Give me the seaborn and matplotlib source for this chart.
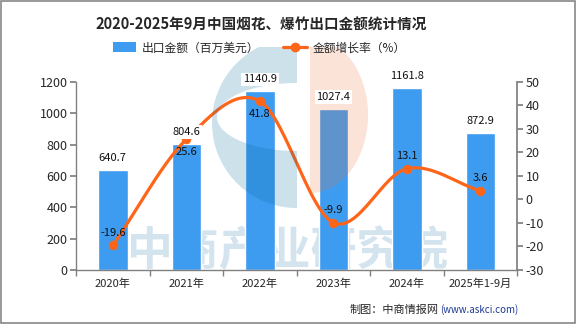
import numpy as np
import pandas as pd
import matplotlib
matplotlib.use("Agg")
import matplotlib.pyplot as plt
import seaborn as sns
from matplotlib.lines import Line2D
from matplotlib.patches import Patch, Rectangle, PathPatch
from matplotlib.path import Path

categories = ["2020年", "2021年", "2022年", "2023年", "2024年", "2025年1-9月"]
export_values = [640.7, 804.6, 1140.9, 1027.4, 1161.8, 872.9]
growth_rates = [-19.6, 25.6, 41.8, -9.9, 13.1, 3.6]
left_ticks = [0, 200, 400, 600, 800, 1000, 1200]
right_ticks = [-30, -20, -10, 0, 10, 20, 30, 40, 50]

title = "2020-2025年9月中国烟花、爆竹出口金额统计情况"
bar_label = "出口金额（百万美元）"
line_label = "金额增长率（%）"
source = "制图：中商情报网"
source_url = "(www.askci.com)"
watermark = "中商产业研究院"

sns.set_theme(style="white")
plt.rcParams["font.family"] = ["Noto Sans CJK SC", "DejaVu Sans"]
plt.rcParams["axes.unicode_minus"] = False

bar_color = "#3D9BF0"
line_color = "#FF6519"
grey = "#808080"

df = pd.DataFrame({"cat": categories, "value": export_values, "rate": growth_rates})

fig = plt.figure(figsize=(5.76, 3.24), dpi=100)

# background watermark text (behind bars)
bg = fig.add_axes([0, 0, 1, 1], zorder=-1)
bg.set_xlim(0, 576)
bg.set_ylim(324, 0)
bg.axis("off")
bg.text(288, 252, watermark, ha="center", va="center", fontsize=33, fontweight="bold",
        color="#D3E4EF")

ax = fig.add_axes([0.132, 0.167, 0.766, 0.58])
ax.patch.set_visible(False)
sns.barplot(data=df, x="cat", y="value", color=bar_color, width=0.4, ax=ax,
            saturation=1, zorder=2)
ax.set_xlim(-0.5, len(categories) - 0.5)
ax.set_ylim(0, 1200)
ax.set_yticks(left_ticks)
ax.set_xlabel("")
ax.set_ylabel("")
ax.tick_params(axis="y", labelsize=9, color=grey, length=4, direction="out", left=True, pad=2)
ax.tick_params(axis="x", labelsize=8, length=0, pad=6)
ax.set_xticks(np.arange(-0.5, len(categories), 1.0), minor=True)
ax.tick_params(axis="x", which="minor", length=4, color=grey, bottom=True)
for s in ["top", "right"]:
    ax.spines[s].set_visible(False)
for s in ["left", "bottom"]:
    ax.spines[s].set_color(grey)
    ax.spines[s].set_linewidth(1)
ax.grid(False)

ax2 = ax.twinx()
ax2.set_ylim(-30, 50)
ax2.set_yticks(right_ticks)
ax2.tick_params(axis="y", labelsize=9, color=grey, length=4, direction="out", right=True, pad=2)
for s in ["top", "left", "bottom"]:
    ax2.spines[s].set_visible(False)
ax2.spines["right"].set_color(grey)
ax2.grid(False)

# smooth curve (cubic Hermite spline through the data points)
x = np.arange(len(growth_rates), dtype=float)
y = np.array(growth_rates, dtype=float)
xs, ys = [], []
n = len(x)
for i in range(n - 1):
    p0 = y[i - 1] if i > 0 else y[i]
    p1, p2 = y[i], y[i + 1]
    p3 = y[i + 2] if i + 2 < n else y[i + 1]
    m1 = (p2 - p0) / (2 if i > 0 else 1)
    m2 = (p3 - p1) / (2 if i + 2 < n else 1)
    t = np.linspace(0, 1, 30)
    h00 = 2 * t**3 - 3 * t**2 + 1
    h10 = t**3 - 2 * t**2 + t
    h01 = -2 * t**3 + 3 * t**2
    h11 = t**3 - t**2
    xs.extend(x[i] + t)
    ys.extend(h00 * p1 + h10 * m1 + h01 * p2 + h11 * m2)
ax2.plot(xs, ys, color=line_color, lw=2.3, zorder=3, solid_capstyle="round")
sns.scatterplot(x=x, y=y, color=line_color, s=40, edgecolor=line_color, ax=ax2, zorder=4)

offsets = [5.5, -5.5, -5.5, 5.5, 5.5, 5.5]
for i, (r, o) in enumerate(zip(growth_rates, offsets)):
    ax2.text(i, r + o, f"{r:.1f}", ha="center", va="center", fontsize=8, color="#111111", zorder=5)

# logo overlay (pixel coordinates), semi-transparent on top
wm = fig.add_axes([0, 0, 1, 1], zorder=10)
wm.set_xlim(0, 576)
wm.set_ylim(324, 0)
wm.axis("off")
wm.patch.set_alpha(0)
clip = Rectangle((0, 47), 576, 230, transform=wm.transData)

def arc(cx, cy, rx, ry, a0, a1, num=80):
    th = np.radians(np.linspace(a0, a1, num))
    return np.column_stack([cx + rx * np.cos(th), cy - ry * np.sin(th)])

outer = arc(297, 123, 85, 85, 90, 270)
outer = np.vstack([outer, outer[:1]])
hole = arc(297, 117, 80, 34, 90, 270)
hole = np.vstack([hole[::-1], hole[-1:]])
verts = np.vstack([outer, hole])
codes = ([Path.MOVETO] + [Path.LINETO] * (len(outer) - 2) + [Path.CLOSEPOLY]
         + [Path.MOVETO] + [Path.LINETO] * (len(hole) - 2) + [Path.CLOSEPOLY])
pp = PathPatch(Path(verts, codes), facecolor="#05699F", edgecolor="none", alpha=0.2)
wm.add_patch(pp)
pp.set_clip_path(clip)
orange = arc(310, 115, 58, 78, -90, 90)
op = plt.Polygon(orange, closed=True, facecolor="#EB733C", edgecolor="none", alpha=0.2)
wm.add_patch(op)
op.set_clip_path(clip)

# bar value labels with white background, above the logo
for i, v in enumerate(export_values):
    wm.text(i, v + 45, f"{v:.1f}", ha="center", va="bottom", fontsize=8, color="#111111",
            transform=ax.transData, zorder=5,
            bbox=dict(boxstyle="square,pad=0.15", facecolor="white", edgecolor="none"))

fig.text(0.453, 0.923, title, ha="center", va="center", fontsize=10.5, fontweight="bold")
handles = [Patch(facecolor=bar_color, edgecolor="none"),
           Line2D([0], [0], color=line_color, lw=2.3, marker="o", markersize=6)]
leg = fig.legend(handles, [bar_label, line_label], loc="center", bbox_to_anchor=(0.45, 0.852),
                 ncol=2, frameon=False, fontsize=8.5, handlelength=2.0, handleheight=0.9,
                 columnspacing=2.0, handletextpad=0.5)
leg.set_zorder(20)
fig.text(0.762, 0.045, source, ha="right", va="center", fontsize=8)
fig.text(0.764, 0.045, source_url, ha="left", va="center", fontsize=7, color="#1F3A93")

fig.patches.append(Rectangle((0.002, 0.003), 0.996, 0.994, transform=fig.transFigure,
                             fill=False, edgecolor="#888888", lw=1.2))

fig.savefig("out.png", dpi=100)
